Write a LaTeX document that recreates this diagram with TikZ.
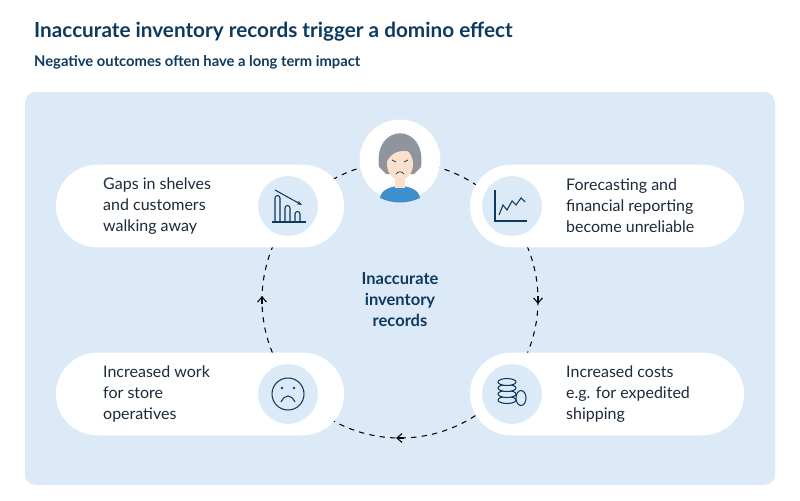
\documentclass[tikz,border=0pt]{standalone}
\usepackage{fontspec}
\setmainfont{Lato}
\usetikzlibrary{arrows.meta}
\usetikzlibrary{positioning}
\definecolor{navy}{HTML}{0E3A5F}
\definecolor{panelblue}{HTML}{DCEAF7}
\definecolor{textdark}{HTML}{1C2B3A}
\definecolor{hairgray}{HTML}{8E959E}
\definecolor{skin}{HTML}{FBE0CC}
\definecolor{shirt}{HTML}{3F8FCB}
\tikzset{
  pill/.style={fill=white, rounded corners=23.5pt, minimum width=164pt, minimum height=47pt},
  iconbg/.style={circle, fill=panelblue, minimum size=34pt},
  label/.style={align=left, font=\fontsize{9.1}{12}\selectfont, text=textdark, anchor=west},
  icon/.style={draw=navy, line width=0.6pt}
}
\begin{document}
\begin{tikzpicture}[x=0.02cm,y=-0.02cm]
\useasboundingbox (0,0) rectangle (800,500);
% titles
\node[anchor=west, font=\bfseries\fontsize{11.8}{14}\selectfont, text=navy] (title) at (28,32) {Inaccurate inventory records trigger a domino effect};
\node[anchor=west, font=\bfseries\fontsize{8.4}{10}\selectfont, text=navy] (subtitle) at (28,62) {Negative outcomes often have a long term impact};
% panel
\fill[panelblue, rounded corners=6] (25,92) rectangle (775,485);
% cycle
\coordinate (hub) at (400,300);
\draw[dashed, line width=0.6pt] (hub) circle (138);
\draw[-{Straight Barb[length=3pt,width=5pt]}, line width=0.6pt] (538,296) -- (538,304);
\draw[-{Straight Barb[length=3pt,width=5pt]}, line width=0.6pt] (404,438) -- (396,438);
\draw[-{Straight Barb[length=3pt,width=5pt]}, line width=0.6pt] (262,304) -- (262,296);
% boxes
\node[pill] (gaps) at (200,206) {};
\node[pill, minimum width=156pt] (forecast) at (607,206) {};
\node[pill] (work) at (200,394) {};
\node[pill, minimum width=156pt] (costs) at (607,394) {};
\node[iconbg] (gapsicon) at (288,206) {};
\node[iconbg] (forecasticon) at (512,206) {};
\node[iconbg] (workicon) at (288,394) {};
\node[iconbg] (costsicon) at (512,394) {};
\node[label] at (97,206) {Gaps in shelves\\and customers\\walking away};
\node[label] at (560,206) {Forecasting and\\financial reporting\\become unreliable};
\node[label] at (97,394) {Increased work\\for store\\operatives};
\node[label] at (560,394) {Increased costs\\e.g. for expedited\\shipping};
\node[align=center, font=\bfseries\fontsize{9.4}{12}\selectfont, text=navy] (core) at (hub) {Inaccurate\\inventory\\records};
% bar chart icon
\draw[icon] (272,222) -- (306,222);
\draw[icon] (275,222) -- (275,198) arc (180:360:2.5) -- (280,222);
\draw[icon] (285,222) -- (285,208) arc (180:360:2.5) -- (290,222);
\draw[icon] (295,222) -- (295,214) arc (180:360:2.5) -- (300,222);
\draw[icon, -{Stealth[length=3pt]}] (275,190) -- (302,205);
% line chart icon
\draw[icon] (495,190) -- (495,221) -- (527,221);
\draw[icon] (499,215) -- (503,205) -- (507,210) -- (512,201) -- (516,205) -- (521,198) -- (525,202);
% sad face icon
\draw[icon] (workicon) circle (16);
\fill[navy] (282,388) circle (1.3) (294,388) circle (1.3);
\draw[icon] (281,402) .. controls (285,394) and (291,394) .. (295,402);
% coins icon
\foreach \yy in {400,394,388,382} {
  \draw[icon, fill=panelblue] (507,\yy) ellipse (9 and 3.5);
}
\draw[icon, fill=panelblue] (521,398) ellipse (5 and 7.5);
% face
\node[circle, fill=white, minimum size=46pt] (person) at (400,160) {};
\fill[hairgray] (379,167) .. controls (373,122) and (427,122) .. (421,167) -- (414,174) -- (386,174) -- cycle;
\fill[shirt] (380,198) .. controls (382,182) and (418,182) .. (420,198) .. controls (407,204) and (393,204) .. (380,198);
\fill[skin] (395,178) rectangle (405,188);
\fill[skin] (400,164) ellipse (13 and 16);
\fill[hairgray] (387,158) .. controls (391,141) and (409,141) .. (413,152) .. controls (400,149) and (392,152) .. (387,161) -- cycle;
\draw[navy, line width=0.4pt] (392,160) -- (396,162) (408,160) -- (404,162) (396,174) .. controls (398,171) and (402,171) .. (404,174);
\end{tikzpicture}
\end{document}
